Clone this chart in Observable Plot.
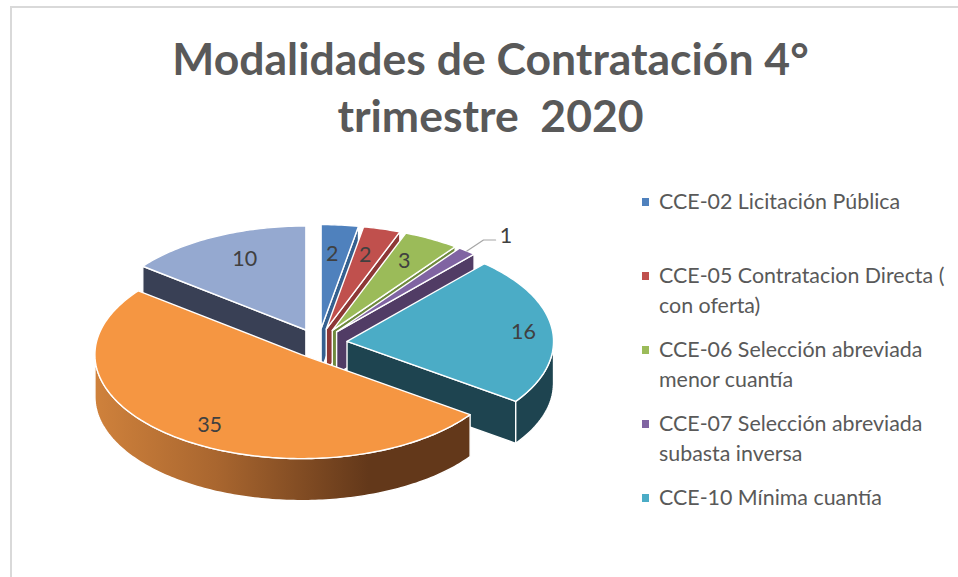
<!DOCTYPE html>
<html lang="es">
<head>
<meta charset="utf-8">
<script src="https://cdn.jsdelivr.net/npm/d3@7"></script>
<script src="https://cdn.jsdelivr.net/npm/@observablehq/plot@0.6"></script>
<style>
  html, body { margin: 0; padding: 0; background: #fff; }
  body { width: 958px; height: 577px; position: relative; overflow: hidden; font-family: Lato, sans-serif; }
  #frame { position: absolute; left: 10px; top: 6px; right: -4px; bottom: -4px; border-left: 2px solid #d9d9d9; border-top: 2px solid #d9d9d9; }
  #title { position: absolute; left: 0; width: 981px; top: 29px; text-align: center; color: #595959; font-weight: 700; font-size: 44.5px; line-height: 57px; white-space: pre; }
  #chart { position: absolute; left: 0; top: 150px; }
  #legend { position: absolute; left: 642px; top: 1px; color: #595959; font-size: 21.4px; line-height: 29.5px; }
  .entry { position: absolute; left: 0; white-space: pre; padding-left: 17px; }
  .swatch { position: absolute; left: 0; top: 11px; width: 7px; height: 8px; }
</style>
</head>
<body>
<div id="frame"></div>
<div id="title">Modalidades de Contratación 4°
trimestre  2020</div>
<div id="chart"></div>
<div id="legend"></div>
<script>
// Data
const titleLines = ["Modalidades de Contratación 4°", "trimestre  2020"];
const values = [2, 2, 3, 1, 16, 35, 10];
const topColors = ["#4f81bd", "#c0504d", "#9bbb59", "#8064a2", "#4bacc6", "#f59642", "#95a9d0"];
const wallColors = ["#35608f", "#8d3836", "#6f8a3e", "#513c65", "#1e4450", "#63381a", "#394055"];
const legendLines = [
  ["CCE-02 Licitación Pública"],
  ["CCE-05 Contratacion Directa (", "con oferta)"],
  ["CCE-06 Selección abreviada", "menor cuantía"],
  ["CCE-07 Selección abreviada", "subasta inversa"],
  ["CCE-10 Mínima cuantía"]
];
const legendTops = [186, 260, 334, 408, 482];
// Label placement along each slice's bisector, as a fraction of the radius (horizontal, vertical)
const labelFracX = [0.59, 0.70, 0.725, 1.30, 0.86, 0.747, 0.673];
const labelFracY = [0.73, 0.746, 0.77, 1.20, 0.85, 0.827, 0.77];

// Pie geometry in unit-circle coordinates
const explode = 0.139, depth = 0.404;
const width = 620, height = 427, rx = 206.5, ry = 104, cxPx = 318, cyPx = 192.5;
const total = d3.sum(values);
const deg = Math.PI / 180;
let cum = 0;
const slices = values.map((v, i) => {
  const a0 = cum / total * 360; cum += v; const a1 = cum / total * 360;
  const mid = (a0 + a1) / 2 * deg;
  return {i, v, a0, a1, mid, ox: explode * Math.sin(mid), oy: explode * Math.cos(mid)};
});
const rim = (s, a, dz = 0, r = 1) => ({x: s.ox + r * Math.sin(a * deg), y: s.oy + r * Math.cos(a * deg) - dz});
const arc = (s, a0, a1, dz = 0) => {
  const n = Math.max(2, Math.ceil(Math.abs(a1 - a0)));
  return d3.range(n + 1).map(k => rim(s, a0 + (a1 - a0) * k / n, dz));
};
const hub = (s, dz = 0) => ({x: s.ox, y: s.oy - dz});

const polygons = [];
for (const i of [6, 0, 1, 2, 3, 4, 5]) {
  const s = slices[i];
  // radial cut faces that look toward the viewer
  const cutAngle = s.a1 < 180 ? s.a1 : s.a0 > 180 ? s.a0 : null;
  if (cutAngle !== null) {
    polygons.push({fill: wallColors[i], pts: [hub(s), rim(s, cutAngle), rim(s, cutAngle, depth), hub(s, depth)]});
  }
  // outer wall, visible on the front half only
  const w0 = Math.max(s.a0, 90), w1 = Math.min(s.a1, 270);
  if (w1 > w0) {
    polygons.push({
      fill: i === 5 ? "url(#orangeWall)" : wallColors[i],
      pts: [...arc(s, w0, w1), ...arc(s, w1, w0, depth)],
      gradient: i === 5
    });
  }
  polygons.push({fill: topColors[i], pts: [hub(s), ...arc(s, s.a0, s.a1)]});
}

const labels = slices.map((s, i) => ({
  text: String(s.v),
  x: s.ox + labelFracX[i] * Math.sin(s.mid),
  y: s.oy + labelFracY[i] * Math.cos(s.mid)
}));
const p = slices[3];
const leader = [
  {x: p.ox + Math.sin(p.mid), y: p.oy + Math.cos(p.mid)},
  {x: p.ox + 1.127 * Math.sin(p.mid), y: p.oy + 1.138 * Math.cos(p.mid)},
  {x: p.ox + 1.22 * Math.sin(p.mid), y: p.oy + 1.138 * Math.cos(p.mid)}
];

const gradientDefs = () => {
  const ns = "http://www.w3.org/2000/svg";
  const defs = document.createElementNS(ns, "defs");
  const g = document.createElementNS(ns, "linearGradient");
  g.setAttribute("id", "orangeWall");
  g.setAttribute("gradientUnits", "userSpaceOnUse");
  g.setAttribute("x1", cxPx - rx - 20); g.setAttribute("x2", cxPx + 50);
  g.setAttribute("y1", 0); g.setAttribute("y2", 0);
  [[0, "#d0823c"], [0.45, "#a9662f"], [1, "#63381a"]].forEach(([o, c]) => {
    const st = document.createElementNS(ns, "stop");
    st.setAttribute("offset", o); st.setAttribute("stop-color", c);
    g.appendChild(st);
  });
  defs.appendChild(g);
  return defs;
};

const chart = Plot.plot({
  width, height,
  margin: 0,
  style: {background: "transparent", overflow: "visible"},
  x: {domain: [-cxPx / rx, (width - cxPx) / rx], range: [0, width], axis: null},
  y: {domain: [-(height - cyPx) / ry, cyPx / ry], range: [height, 0], axis: null},
  marks: [
    gradientDefs,
    ...polygons.map(poly => Plot.line(poly.pts, {
      x: "x", y: "y", curve: "linear-closed",
      fill: poly.fill, stroke: "#fff", strokeWidth: 1.4, strokeLinejoin: "round"
    })),
    Plot.line(leader, {x: "x", y: "y", stroke: "#a6a6a6", strokeWidth: 1.2}),
    Plot.text(labels, {
      x: "x", y: "y", text: "text", dy: 1,
      fill: "#404040", fontSize: 21.5, fontFamily: "Lato, sans-serif"
    })
  ]
});
document.getElementById("chart").appendChild(chart);

const legend = document.getElementById("legend");
legendLines.forEach((lines, i) => {
  const e = document.createElement("div");
  e.className = "entry";
  e.style.top = legendTops[i] + "px";
  e.textContent = lines.join("\n");
  const sw = document.createElement("span");
  sw.className = "swatch";
  sw.style.background = topColors[i];
  e.appendChild(sw);
  legend.appendChild(e);
});
</script>
</body>
</html>
